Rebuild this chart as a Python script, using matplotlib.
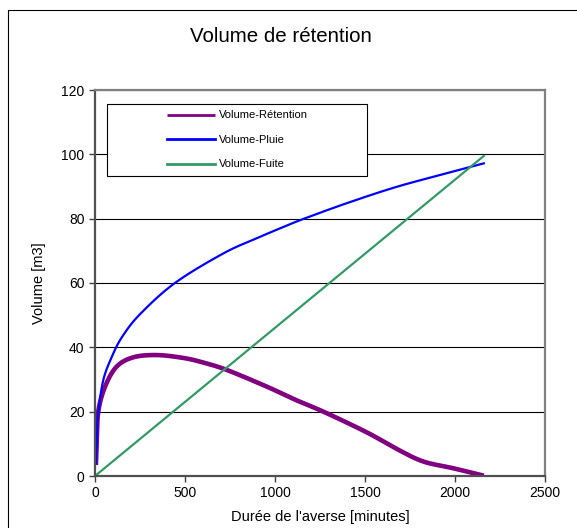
import matplotlib
matplotlib.use("Agg")
import matplotlib.pyplot as plt
from matplotlib.patches import Rectangle
import numpy as np

plt.rcParams['font.family'] = ['Liberation Sans', 'DejaVu Sans']

# Data
t_pluie = [5, 9, 18, 46, 93, 150, 250, 444, 713, 898, 1050, 1157, 1398, 1676, 1954, 2160]
v_pluie = [4, 10, 19.5, 29.8, 37.0, 43.2, 50.3, 60.0, 69.2, 73.9, 77.5, 79.9, 84.8, 89.9, 94.1, 97.2]

t_ret = [5, 9, 18, 56, 120, 213, 343, 491, 600, 731, 954, 1100, 1269, 1509, 1680, 1824, 1991, 2160]
v_ret = [3.4, 10, 20, 27.8, 34.0, 36.9, 37.6, 36.7, 35.3, 33.0, 27.8, 24.0, 20.0, 13.6, 8.3, 4.5, 2.4, 0.1]

t_fuite = [0, 2160]
v_fuite = [0, 99.5]

labels = ['Volume-Rétention', 'Volume-Pluie', 'Volume-Fuite']
colors = ['#800080', '#0000FF', '#339966']


def smooth(ax, x, y, n=20):
    """Excel-like smoothed line: Catmull-Rom through the points, in display space."""
    pts = ax.transData.transform(np.column_stack([x, y]))
    if len(pts) < 3:
        return np.asarray(x), np.asarray(y)
    p = np.vstack([pts[0], pts, pts[-1]])
    out = []
    for i in range(1, len(p) - 2):
        p0, p1, p2, p3 = p[i - 1], p[i], p[i + 1], p[i + 2]
        s = np.linspace(0, 1, n, endpoint=False)[:, None]
        seg = 0.5 * ((2 * p1) + (-p0 + p2) * s + (2 * p0 - 5 * p1 + 4 * p2 - p3) * s ** 2
                     + (-p0 + 3 * p1 - 3 * p2 + p3) * s ** 3)
        out.append(seg)
    out.append(pts[-1:])
    out = np.vstack(out)
    d = ax.transData.inverted().transform(out)
    return d[:, 0], d[:, 1]


W, H = 577, 528
fig = plt.figure(figsize=(W / 100, H / 100), dpi=100)
ax = fig.add_axes([95 / W, 1 - 476 / H, 450 / W, 386 / H])

# figure border
fig.patches.append(Rectangle((8 / W, -0.1), 1.2, 1 - 10 / H + 0.1, transform=fig.transFigure,
                             fill=False, edgecolor='black', linewidth=0.8))

ax.set_xlim(0, 2500)
ax.set_ylim(0, 120)
ax.set_xticks(range(0, 2501, 500))
ax.set_yticks(range(0, 121, 20))
ax.yaxis.grid(True, color='black', linewidth=0.8)
ax.set_axisbelow(True)

xs, ys = smooth(ax, t_ret, v_ret)
l1, = ax.plot(xs, ys, color=colors[0], linewidth=3.3, solid_capstyle='butt')
xs, ys = smooth(ax, t_pluie, v_pluie)
l2, = ax.plot(xs, ys, color=colors[1], linewidth=1.6)
l3, = ax.plot(t_fuite, v_fuite, color=colors[2], linewidth=1.6)

for s in ax.spines.values():
    s.set_color('#808080')
    s.set_linewidth(1.6)
ax.spines['left'].set_color('#505050')
ax.spines['bottom'].set_color('#505050')

ax.tick_params(axis='both', length=4, width=1, color='#404040', labelsize=10, direction='out')

ax.set_xlabel("Durée de l'averse [minutes]", fontsize=10.5, labelpad=7)
ax.set_ylabel("Volume [m3]", fontsize=10.5, labelpad=11)

fig.text(281 / W, 1 - 37 / H, 'Volume de rétention', fontsize=14.8, ha='center', va='center')

# legend box
ax.add_patch(Rectangle((12 / 450, (476 - 176) / 386), 260 / 450, 72 / 386, transform=ax.transAxes,
                       fill=True, facecolor='white', edgecolor='black', linewidth=0.8, zorder=5))
leg = ax.legend([l1, l2, l3], labels, loc='upper left', bbox_to_anchor=(72 / 450, (476 - 110.5) / 386),
                frameon=False, fontsize=8, handlelength=4.3, handletextpad=0.4,
                labelspacing=1.3, borderpad=0, borderaxespad=0)
leg.set_zorder(6)
for h in leg.legend_handles:
    h.set_linewidth(2)

fig.savefig('out.png', dpi=100)
